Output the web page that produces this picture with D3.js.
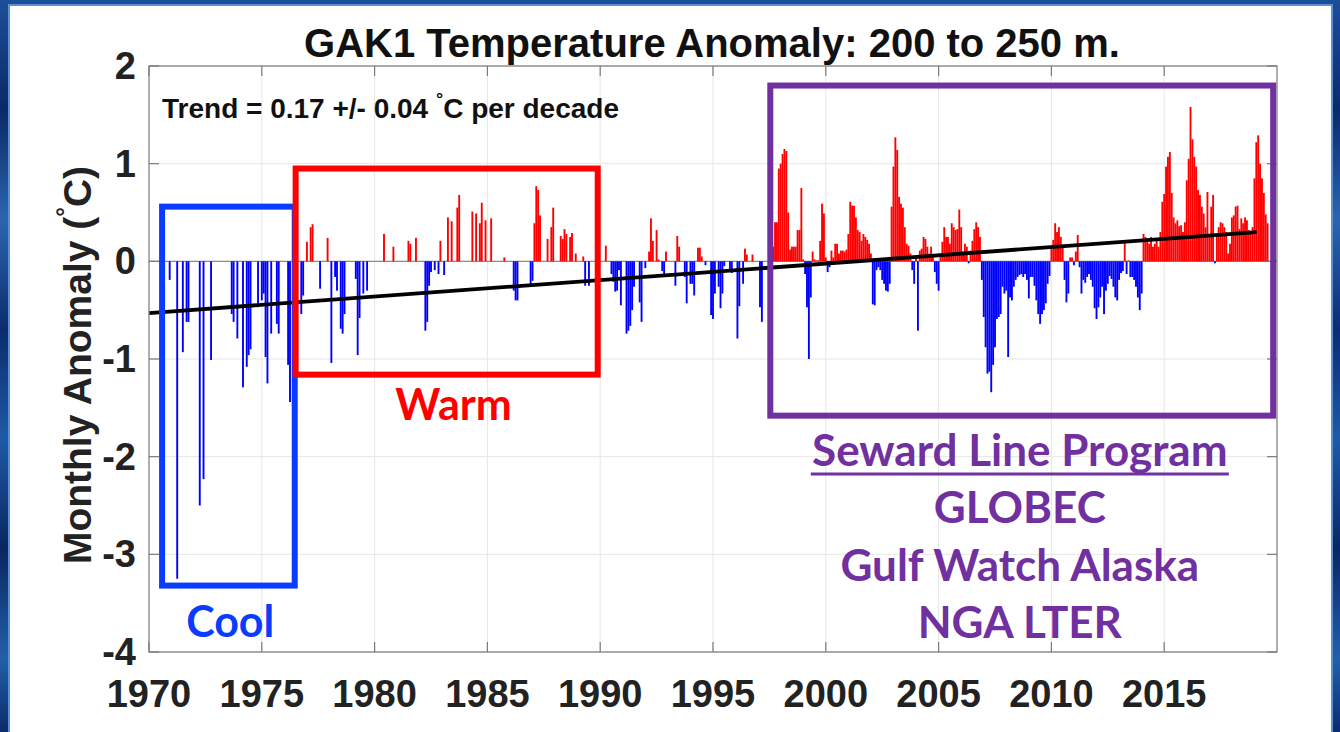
<!DOCTYPE html>
<html lang="en">
  <head>
    <script src="https://d3js.org/d3.v7.min.js"></script>
    <meta charset="utf-8"/>
    <title>GAK1 Temperature Anomaly</title>
  </head>
  <body>
    <div id="gak1_div">
      <svg id="gak1"></svg>
    </div>
  </body>
</html>

<style>
  body { margin: 0; background: #0c2f6c; }
  svg { display: block; }
</style>

<script>
  const width = 1340;
  const height = 732;
  const margin = {top: 66, right: 63, bottom: 80, left: 149};

  // tick labels
  const xTicks = [1970, 1975, 1980, 1985, 1990, 1995, 2000, 2005, 2010, 2015];
  const yTicks = [-4, -3, -2, -1, 0, 1, 2];

  // sparse casts 1970-1997: month counted from Jan 1970, anomaly in degC
  const sparseMonths = [
    11, 15, 18, 20, 21, 27, 29, 33, 44, 45, 47, 50, 52, 53, 54, 58, 60, 61, 62, 63,
    65, 68, 69, 74, 75, 81, 82, 84, 86, 87, 91, 95, 97, 99, 100, 102, 103, 104, 110, 111,
    112, 114, 116, 125, 130, 138, 139, 142, 147, 148, 149, 150, 152, 154, 155, 157, 159, 161, 164, 165,
    172, 174, 176, 177, 179, 182, 189, 194, 195, 196, 203, 204, 205, 206, 207, 208, 212, 214, 215, 219,
    220, 221, 222, 224, 225, 227, 231, 232, 234, 238, 243, 246, 247, 248, 249, 250, 251, 254, 255, 256,
    257, 258, 261, 262, 264, 266, 267, 268, 270, 271, 273, 274, 275, 280, 281, 282, 285, 286, 288, 289,
    290, 292, 293, 294, 296, 299, 300, 301, 303, 304, 305, 306, 309, 310, 313, 314, 316, 317, 318, 321,
    325, 326
  ];
  const sparseValues = [
    -0.19, -3.25, -0.93, -0.62, -0.62, -2.50, -2.23, -1.01, -0.54, -0.62, -0.79, -1.29, -1.08, -0.96, -0.90, -0.47, -0.40, -0.33, -0.98, -1.25,
    -0.74, -0.64, -0.74, -1.06, -1.44, -0.54, -0.35, 0.20, 0.35, 0.38, -0.28, 0.24, -1.04, -0.16, -0.30, -0.69, -0.74, -0.54, -0.18, -0.96,
    -0.58, -0.33, -0.30, 0.28, 0.15, 0.21, 0.18, 0.24, -0.71, -0.62, -0.25, -0.11, -0.09, -0.13, 0.21, -0.14, 0.45, 0.41, 0.55, 0.68,
    0.51, 0.49, 0.39, 0.60, 0.42, 0.44, 0.04, -0.30, -0.40, -0.40, -0.26, -0.20, 0.39, 0.77, 0.73, 0.47, 0.23, 0.35, 0.55, 0.26,
    0.23, 0.33, 0.28, 0.25, 0.29, 0.08, 0.05, -0.25, -0.25, -0.45, 0.16, -0.13, -0.21, -0.31, -0.30, -0.09, -0.45, -0.74, -0.71, -0.66,
    -0.50, -0.26, -0.42, -0.62, -0.07, 0.10, 0.44, 0.21, 0.32, 0.02, -0.10, -0.16, 0.10, -0.25, 0.26, 0.15, -0.16, -0.43, -0.23, -0.23,
    -0.35, 0.14, 0.14, 0.05, -0.04, -0.55, -0.59, -0.33, -0.26, -0.48, -0.33, -0.05, -0.10, -0.12, -0.79, -0.46, -0.23, 0.13, 0.07, 0.07,
    -0.47, -0.62
  ];

  // monthly record from Sep 1997 onward
  const denseStart = 1997 + 8 / 12;
  const denseValues = [
    0.15, 0.40, 0.40, 0.95, 1.00, 1.10, 1.15, 1.13, 0.50, 0.12,
    0.15, 0.15, 0.15, 0.32, 0.32, 0.75, 0.02, -0.13, -0.47, -1.00,
    -0.37, 0.10, 0.02, 0.01, 0.01, 0.21, 0.59, 0.49, 0.04, -0.11,
    -0.06, 0.11, 0.04, 0.18, 0.18, 0.08, 0.11, 0.11, 0.10, 0.12,
    0.28, 0.61, 0.57, 0.57, 0.45, 0.32, 0.30, 0.21, 0.28, 0.25,
    0.22, 0.18, 0.08, -0.44, -0.45, -0.09, -0.06, -0.09, -0.19, -0.23,
    -0.30, -0.31, -0.23, 0.56, 0.97, 1.27, 1.14, 0.66, 0.59, 0.55,
    0.35, 0.18, 0.16, 0.08, -0.09, -0.23, 0.05, -0.71, 0.11, 0.13,
    0.25, 0.23, 0.15, 0.08, 0.15, 0.04, -0.11, -0.23, -0.30, 0.05,
    0.20, 0.35, 0.25, 0.25, 0.18, 0.39, 0.35, 0.32, 0.33, 0.53,
    0.35, 0.10, 0.18, 0.15, -0.02, 0.11, 0.21, 0.33, 0.40, 0.35,
    0.25, -0.19, -0.57, -0.88, -1.15, -1.13, -1.34, -1.06, -0.88, -0.59,
    -0.57, -0.54, -0.26, -0.33, -0.30, -0.98, -0.37, -0.40, -0.26, -0.19,
    -0.16, -0.14, -0.13, -0.16, -0.13, -0.19, -0.38, -0.16, -0.16, -0.25,
    -0.40, -0.54, -0.64, -0.54, -0.50, -0.43, -0.23, -0.15, 0.15, 0.22,
    0.39, 0.30, 0.35, 0.25, 0.15, -0.19, -0.42, -0.33, 0.04, 0.04,
    -0.04, 0.10, 0.27, -0.06, -0.33, -0.19, -0.22, -0.16, -0.13, -0.19,
    -0.26, -0.48, -0.59, -0.47, -0.37, -0.26, -0.54, -0.30, -0.23, -0.15,
    -0.18, -0.26, -0.37, -0.40, -0.19, -0.12, -0.10, 0.20, -0.13, 0.01,
    -0.16, -0.16, -0.19, -0.26, -0.37, -0.50, -0.33, 0.28, 0.25, 0.22,
    0.18, 0.25, 0.15, 0.18, 0.21, 0.15, 0.30, 0.61, 0.69, 0.97,
    1.07, 1.12, 0.70, 0.45, 0.39, 0.42, 0.36, 0.37, 0.30, 0.40,
    0.83, 1.05, 1.58, 1.25, 1.07, 0.97, 0.73, 0.68, 0.56, 0.49,
    0.35, 0.71, 0.28, 0.56, 0.68, -0.02, 0.28, 0.35, 0.40, 0.39,
    0.35, 0.30, 0.08, 0.18, 0.45, 0.47, 0.56, 0.57, 0.33, 0.44,
    0.39, 0.45, 0.42, 0.32, 0.28, 0.35, 0.85, 1.22, 1.29, 1.00,
    0.85, 0.70, 0.48, 0.39
  ];

  // linear trend, 0.17 degC per decade
  const trendYears = [1970, 2019.1];
  const trendValues = [-0.53, 0.30];

  // highlighted periods [start year, end year, top value, bottom value]
  const coolBox = [1970.58, 1976.46, 0.56, -3.32];
  const warmBox = [1976.5, 1989.89, 0.95, -1.16];
  const sewardBox = [1997.54, 2019.83, 1.80, -1.58];
  const sewardLines = ["Seward Line Program", "GLOBEC", "Gulf Watch Alaska", "NGA LTER"];

  const records = sparseMonths.map((m, i) => ({t: 1970 + m / 12, v: sparseValues[i]}))
    .concat(denseValues.map((v, i) => ({t: denseStart + i / 12, v: v})));

  const svg = d3.select("#gak1_div").select("svg")
    .attr("width", width)
    .attr("height", height);

  // ocean backdrop and slide panel
  const defs = svg.append("defs");
  const grad = defs.append("linearGradient")
    .attr("id", "ocean")
    .attr("x1", 0).attr("y1", 0).attr("x2", 0).attr("y2", 1);
  [["0%", "#1b4f9a"], ["15%", "#0a2a66"], ["30%", "#2a66b0"], ["45%", "#0b2d6e"],
   ["60%", "#1d5aa6"], ["75%", "#09275f"], ["90%", "#2160aa"], ["100%", "#0a2c6a"]]
    .forEach((s) => grad.append("stop").attr("offset", s[0]).attr("stop-color", s[1]));

  svg.append("rect")
    .attr("width", width).attr("height", height)
    .attr("fill", "url(#ocean)");

  svg.append("rect")
    .attr("x", 9).attr("y", 5)
    .attr("width", 1323).attr("height", 740)
    .attr("fill", "white")
    .attr("stroke", "#5d8fd6")
    .attr("stroke-width", 2);

  const xScale = d3.scaleLinear()
    .domain([1970, 2020])
    .range([margin.left, width - margin.right]);

  const yScale = d3.scaleLinear()
    .domain([-4, 2])
    .range([height - margin.bottom, margin.top]);

  const x0 = margin.left, x1 = width - margin.right;
  const y0 = margin.top, y1 = height - margin.bottom;

  // grid
  svg.append("g")
    .selectAll("line")
    .data(xTicks.slice(1))
    .join("line")
      .attr("x1", (d) => xScale(d)).attr("x2", (d) => xScale(d))
      .attr("y1", y0).attr("y2", y1)
      .attr("stroke", "#e6e6e6");

  svg.append("g")
    .selectAll("line")
    .data(yTicks)
    .join("line")
      .attr("x1", x0).attr("x2", x1)
      .attr("y1", (d) => yScale(d)).attr("y2", (d) => yScale(d))
      .attr("stroke", "#e6e6e6");

  // zero baseline
  svg.append("line")
    .attr("x1", x0).attr("x2", x1)
    .attr("y1", yScale(0)).attr("y2", yScale(0))
    .attr("stroke", "#8c8c8c")
    .attr("stroke-width", 1.2);

  // monthly bars
  const barW = xScale(1970 + 1 / 12) - xScale(1970);
  svg.append("g")
    .selectAll("rect")
    .data(records)
    .join("rect")
      .attr("x", (d) => xScale(d.t) - barW / 2)
      .attr("width", barW)
      .attr("y", (d) => yScale(Math.max(0, d.v)))
      .attr("height", (d) => Math.abs(yScale(d.v) - yScale(0)))
      .attr("fill", (d) => d.v >= 0 ? "#ff0000" : "#0000ff");

  // trend
  svg.append("path")
    .datum(trendYears.map((t, i) => [t, trendValues[i]]))
    .attr("d", d3.line().x((d) => xScale(d[0])).y((d) => yScale(d[1])))
    .attr("stroke", "black")
    .attr("stroke-width", 3.8)
    .attr("fill", "none");

  // axes box with inward ticks
  const axisColor = "#7a7a7a";
  svg.append("rect")
    .attr("x", x0).attr("y", y0)
    .attr("width", x1 - x0).attr("height", y1 - y0)
    .attr("fill", "none")
    .attr("stroke", axisColor)
    .attr("stroke-width", 1.2);

  const tickG = svg.append("g").attr("stroke", axisColor).attr("stroke-width", 1.2);
  xTicks.forEach((t) => {
    tickG.append("line").attr("x1", xScale(t)).attr("x2", xScale(t)).attr("y1", y1).attr("y2", y1 - 10);
    tickG.append("line").attr("x1", xScale(t)).attr("x2", xScale(t)).attr("y1", y0).attr("y2", y0 + 10);
  });
  yTicks.forEach((v) => {
    tickG.append("line").attr("x1", x0).attr("x2", x0 + 10).attr("y1", yScale(v)).attr("y2", yScale(v));
    tickG.append("line").attr("x1", x1).attr("x2", x1 - 10).attr("y1", yScale(v)).attr("y2", yScale(v));
  });

  const helv = "'Liberation Sans', Arial, Helvetica, sans-serif";

  svg.append("g")
    .selectAll("text")
    .data(xTicks)
    .join("text")
      .attr("x", (d) => xScale(d))
      .attr("y", y1 + 55)
      .attr("text-anchor", "middle")
      .attr("font-family", helv)
      .attr("font-weight", "bold")
      .attr("font-size", 38)
      .attr("fill", "#222")
      .text((d) => d);

  svg.append("g")
    .selectAll("text")
    .data(yTicks)
    .join("text")
      .attr("x", x0 - 13)
      .attr("y", (d) => yScale(d) + 13)
      .attr("text-anchor", "end")
      .attr("font-family", helv)
      .attr("font-weight", "bold")
      .attr("font-size", 38)
      .attr("fill", "#222")
      .text((d) => d);

  // title
  svg.append("text")
    .attr("x", 712)
    .attr("y", 57)
    .attr("text-anchor", "middle")
    .attr("font-family", helv)
    .attr("font-weight", "bold")
    .attr("font-size", 40)
    .attr("fill", "#111")
    .text("GAK1 Temperature Anomaly: 200 to 250 m.");

  // y label
  const ylab = svg.append("text")
    .attr("transform", "translate(91," + ((y0 + y1) / 2 + 6) + ") rotate(-90)")
    .attr("text-anchor", "middle")
    .attr("font-family", helv)
    .attr("font-weight", "bold")
    .attr("font-size", 39)
    .attr("fill", "#222");
  ylab.append("tspan").text("Monthly Anomaly (");
  ylab.append("tspan").attr("font-size", 24).attr("dy", -18).text("°");
  ylab.append("tspan").attr("dy", 18).text("C)");

  // trend note
  const note = svg.append("text")
    .attr("x", 162)
    .attr("y", 118)
    .attr("font-family", helv)
    .attr("font-weight", "bold")
    .attr("font-size", 28)
    .attr("fill", "#111");
  note.append("tspan").text("Trend = 0.17 +/- 0.04 ");
  note.append("tspan").attr("font-size", 18).attr("dy", -13).text("°");
  note.append("tspan").attr("dy", 13).text("C per decade");

  // highlight boxes
  const boxes = [[coolBox, "#0a3cff"], [warmBox, "#ff0000"], [sewardBox, "#7030a0"]];
  boxes.forEach(([b, c]) => {
    svg.append("rect")
      .attr("x", xScale(b[0]))
      .attr("y", yScale(b[2]))
      .attr("width", xScale(b[1]) - xScale(b[0]))
      .attr("height", yScale(b[3]) - yScale(b[2]))
      .attr("fill", "none")
      .attr("stroke", c)
      .attr("stroke-width", 6);
  });

  const calibri = "Lato, 'Open Sans', sans-serif";

  svg.append("text")
    .attr("x", xScale(1973.6)).attr("y", 637)
    .attr("text-anchor", "middle")
    .attr("font-family", calibri).attr("font-weight", "bold").attr("font-size", 43)
    .attr("fill", "#0a3cff")
    .text("Cool");

  svg.append("text")
    .attr("x", xScale(1983.5)).attr("y", 420)
    .attr("text-anchor", "middle")
    .attr("font-family", calibri).attr("font-weight", "bold").attr("font-size", 43)
    .attr("fill", "#ff0000")
    .text("Warm");

  const sewardX = xScale(2008.6);
  sewardLines.forEach((s, i) => {
    svg.append("text")
      .attr("x", sewardX).attr("y", 466 + i * 57.3)
      .attr("text-anchor", "middle")
      .attr("font-family", calibri).attr("font-weight", "bold").attr("font-size", 44)
      .attr("fill", "#7030a0")
      .text(s);
  });
  const firstW = 418;
  svg.append("line")
    .attr("x1", sewardX - firstW / 2).attr("x2", sewardX + firstW / 2)
    .attr("y1", 474).attr("y2", 474)
    .attr("stroke", "#7030a0")
    .attr("stroke-width", 3);
</script>
